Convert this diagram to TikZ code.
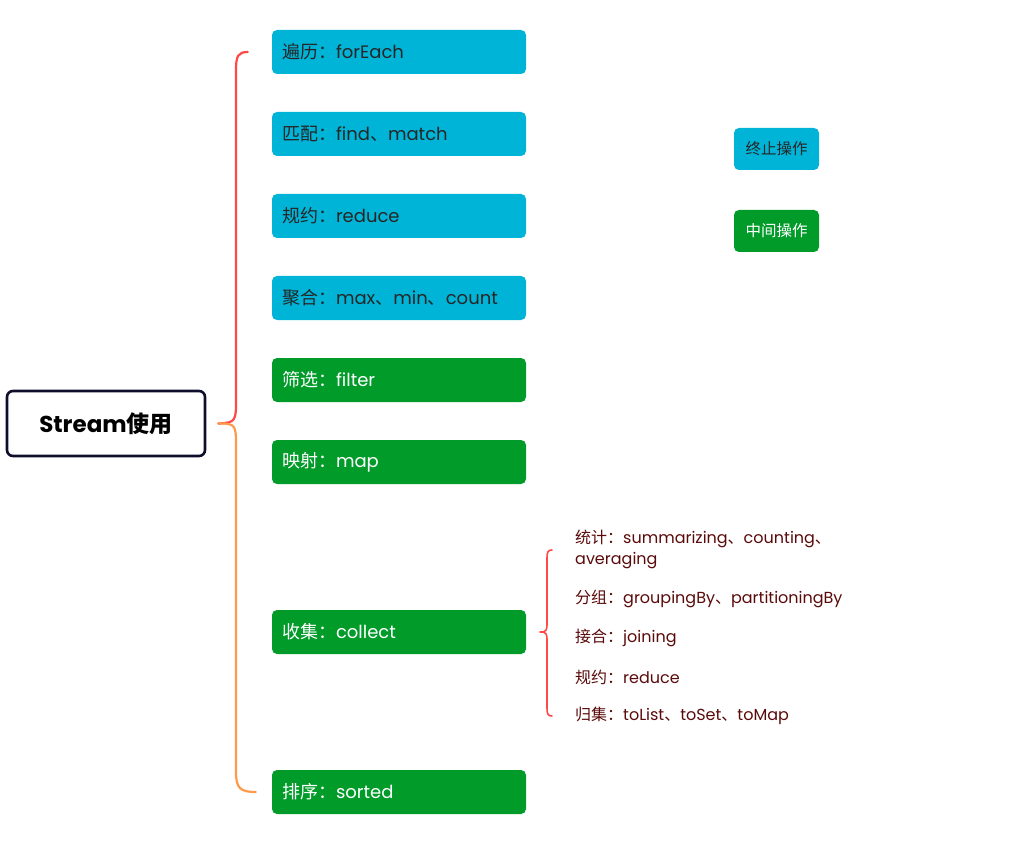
\documentclass[tikz,border=0pt]{standalone}
\usepackage{fontspec}
\setmainfont{Poppins}
\newfontfamily\cjk{Noto Sans CJK SC}
\newcommand\zh[1]{{\cjk #1}}
\definecolor{cyanbox}{HTML}{00B4D8}
\definecolor{greenbox}{HTML}{009B29}
\definecolor{rootline}{HTML}{0E0E2C}
\definecolor{bracered}{HTML}{FF4848}
\definecolor{braceorange}{HTML}{FF9A4A}
\definecolor{subtext}{HTML}{5A0A0A}
\begin{document}
\begin{tikzpicture}[x=1pt,y=-1pt,
  item/.style={rounded corners=5pt, minimum height=44pt, inner xsep=10pt, text width=234pt, align=left, font=\fontsize{18}{21}\selectfont},
  opend/.style={item, fill=cyanbox, text=black!85},
  opmid/.style={item, fill=greenbox, text=white},
  legend/.style={rounded corners=5pt, minimum width=85pt, minimum height=42pt, font=\fontsize{15.5}{18}\selectfont\cjk},
  sub/.style={anchor=west, inner sep=0pt, text=subtext, align=left, font=\fontsize{16}{21}\selectfont},
  brace/.style={line width=2.2pt, line cap=round}
]
\useasboundingbox (0,0) rectangle (1010,845);
\node[draw=rootline, line width=2.6pt, rounded corners=6pt, minimum width=198pt, minimum height=65pt, font=\fontsize{23}{27}\selectfont\bfseries] (root) at (106,423.5) {Stream\zh{使用}};

\node[opend] (n1) at (399,52) {\zh{遍历：}forEach};
\node[opend] (n2) at (399,134) {\zh{匹配：}find\zh{、}match};
\node[opend] (n3) at (399,216) {\zh{规约：}reduce};
\node[opend] (n4) at (399,298) {\zh{聚合：}max\zh{、}min\zh{、}count};
\node[opmid] (n5) at (399,380) {\zh{筛选：}filter};
\node[opmid] (n6) at (399,462) {\zh{映射：}map};
\node[opmid] (n7) at (399,632) {\zh{收集：}collect};
\node[opmid] (n8) at (399,792) {\zh{排序：}sorted};

\node[legend, fill=cyanbox, text=black!85] (l1) at (776.5,149) {终止操作};
\node[legend, fill=greenbox, text=white] (l2) at (776.5,231) {中间操作};

\node[sub] (s1) at (575,549.5) {\zh{统计：}summarizing\zh{、}counting\zh{、}\\averaging};
\node[sub] (s2) at (575,599) {\zh{分组：}groupingBy\zh{、}partitioningBy};
\node[sub] (s3) at (575,638) {\zh{接合：}joining};
\node[sub] (s4) at (575,677) {\zh{规约：}reduce};
\node[sub] (s5) at (575,716) {\zh{归集：}toList\zh{、}toSet\zh{、}toMap};

\coordinate (tip) at ([xshift=12pt]root.east);
\coordinate (e1) at ([xshift=-24pt]n1.west);
\coordinate (e8) at ([xshift=-16pt]n8.west);
\draw[brace, bracered] (tip) .. controls (236,423) and (236,420) .. (236,400) -- (236,70) .. controls (236,56) and (238,52) .. (e1);
\draw[brace, braceorange] (tip) .. controls (236,423) and (236,426) .. (236,446) -- (236,772) .. controls (236,788) and (240,792) .. (e8);

\coordinate (t7) at ([xshift=14pt]n7.east);
\coordinate (b1) at (552,550);
\coordinate (b5) at (552,716);
\draw[line width=1.6pt, bracered, line cap=round] (t7) .. controls (547,632) and (547,630) .. (547,622) -- (547,558) .. controls (547,552) and (548,550) .. (b1);
\draw[line width=1.6pt, bracered, line cap=round] (t7) .. controls (547,632) and (547,634) .. (547,642) -- (547,708) .. controls (547,714) and (548,716) .. (b5);
\end{tikzpicture}
\end{document}
